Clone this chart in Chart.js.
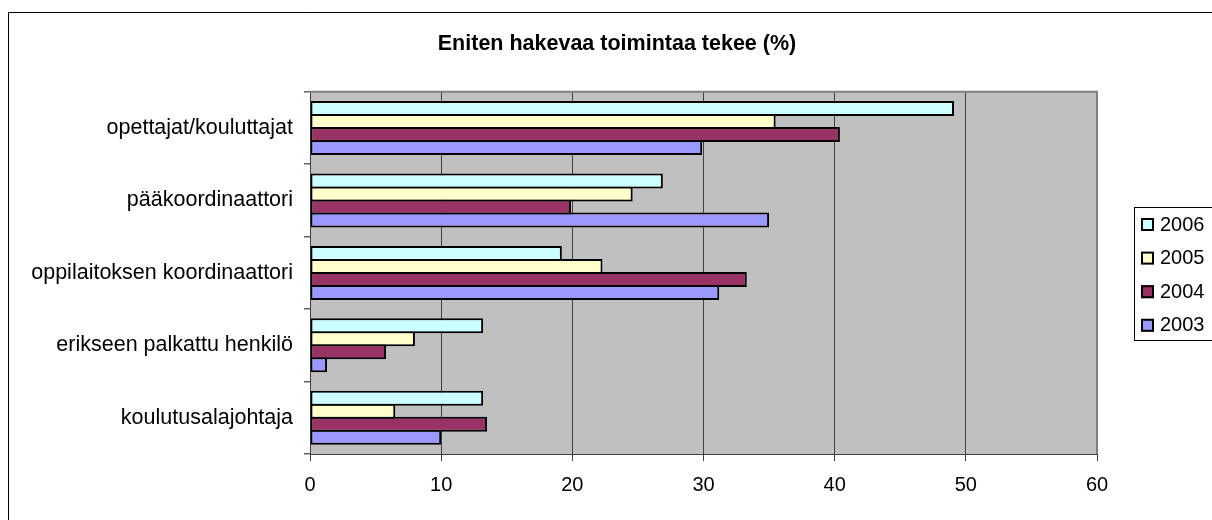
<!DOCTYPE html>
<html>
<head>
<meta charset="utf-8">
<script src="https://cdn.jsdelivr.net/npm/chart.js@4/dist/chart.umd.min.js"></script>
<style>
  html, body { margin: 0; padding: 0; background: #fff; overflow: hidden; }
  canvas { display: block; }
</style>
</head>
<body>
<canvas id="chart" width="1212" height="520"></canvas>
<script>
// Kategoriat ylhäältä alas
const categories = [
  "opettajat/kouluttajat",
  "pääkoordinaattori",
  "oppilaitoksen koordinaattori",
  "erikseen palkattu henkilö",
  "koulutusalajohtaja",
];
const years = ["2006", "2005", "2004", "2003"];
const values2006 = [49.1, 26.9, 19.2, 13.2, 13.2];
const values2005 = [35.5, 24.6, 22.3, 8.0, 6.5];
const values2004 = [40.4, 19.9, 33.3, 5.8, 13.5];
const values2003 = [29.9, 35.0, 31.2, 1.3, 10.0];
const xTicks = [0, 10, 20, 30, 40, 50, 60];
const colors = ["#CCFFFF", "#FFFFCC", "#993366", "#9999FF"];

const FONT = "'Liberation Sans', Arial, sans-serif";

// Harmaa piirtoalue + kehykset
const plotFrame = {
  id: "plotFrame",
  beforeDraw(chart) {
    const { ctx, chartArea: a } = chart;
    ctx.save();
    ctx.fillStyle = "#C0C0C0";
    ctx.fillRect(a.left, a.top, a.right - a.left, a.bottom - a.top);
    ctx.restore();
  },
  afterDatasetsDraw(chart) {
    const { ctx, chartArea: a } = chart;
    ctx.save();
    ctx.strokeStyle = "#808080";
    ctx.lineWidth = 2;
    ctx.beginPath();
    ctx.moveTo(a.left, a.top);
    ctx.lineTo(a.right, a.top);
    ctx.lineTo(a.right, a.bottom);
    ctx.stroke();
    // ulkokehys (oikea ja ala reuna jäävät kuvan ulkopuolelle)
    ctx.strokeStyle = "#000";
    ctx.lineWidth = 1;
    ctx.beginPath();
    ctx.moveTo(8.5, chart.height);
    ctx.lineTo(8.5, 12.5);
    ctx.lineTo(chart.width, 12.5);
    ctx.stroke();
    ctx.restore();
  },
};

// Selite laatikossa oikealla
const legendBox = {
  id: "legendBox",
  afterDraw(chart) {
    const { ctx, chartArea: a } = chart;
    const left = a.right + 37;
    const top = 207;
    const bottom = 340;
    ctx.save();
    ctx.strokeStyle = "#000";
    ctx.lineWidth = 1;
    ctx.strokeRect(left + 0.5, top + 0.5, 200, bottom - top);
    ctx.font = `20px ${FONT}`;
    ctx.textBaseline = "middle";
    ctx.textAlign = "left";
    chart.data.datasets.forEach((ds, i) => {
      const cy = top + 17 + i * 33.6;
      ctx.fillStyle = ds.backgroundColor;
      ctx.fillRect(left + 7, cy - 6, 13, 13);
      ctx.strokeStyle = "#000";
      ctx.lineWidth = 2;
      ctx.strokeRect(left + 8, cy - 5, 11, 11);
      ctx.fillStyle = "#000";
      ctx.fillText(ds.label, left + 26, cy + 1);
    });
    ctx.restore();
  },
};

const seriesValues = [values2006, values2005, values2004, values2003];

new Chart(document.getElementById("chart"), {
  type: "bar",
  data: {
    labels: categories,
    datasets: years.map((y, i) => ({
      label: y,
      data: seriesValues[i],
      backgroundColor: colors[i],
      borderColor: "#000",
      borderWidth: 2,
      borderSkipped: false,
      categoryPercentage: 0.718,
      barPercentage: 1.154,
    })),
  },
  options: {
    indexAxis: "y",
    responsive: false,
    animation: false,
    layout: { padding: { left: 22, right: 0, top: 0, bottom: 0 } },
    plugins: {
      legend: { display: false },
      tooltip: { enabled: false },
      title: {
        display: true,
        text: "Eniten hakevaa toimintaa tekee (%)",
        color: "#000",
        font: { family: FONT, size: 21.5, weight: "bold" },
        padding: { top: 31, bottom: 35 },
      },
    },
    scales: {
      x: {
        min: 0,
        max: 60,
        afterBuildTicks: (s) => {
          s.ticks = xTicks.map((v) => ({ value: v }));
        },
        afterFit: (s) => {
          s.height = 66;
        },
        ticks: {
          color: "#000",
          font: { family: FONT, size: 20 },
          padding: 12,
          maxRotation: 0,
        },
        grid: { color: "#404040", lineWidth: 1, tickLength: 7 },
        border: { color: "#404040", width: 1 },
      },
      y: {
        afterFit: (s) => {
          s.width = 288;
        },
        ticks: {
          color: "#000",
          font: { family: FONT, size: 21.5 },
          padding: 11,
        },
        grid: {
          drawOnChartArea: false,
          color: "#606060",
          tickLength: 6,
          lineWidth: 1.5,
        },
        border: { color: "#404040", width: 1 },
      },
      // tyhjä tila selitteelle oikealla
      legendSpace: {
        type: "category",
        axis: "y",
        position: "right",
        grid: { display: false },
        ticks: { display: false },
        border: { display: false },
        afterFit: (s) => {
          s.width = 115;
        },
      },
    },
  },
  plugins: [plotFrame, legendBox],
});
</script>
</body>
</html>
